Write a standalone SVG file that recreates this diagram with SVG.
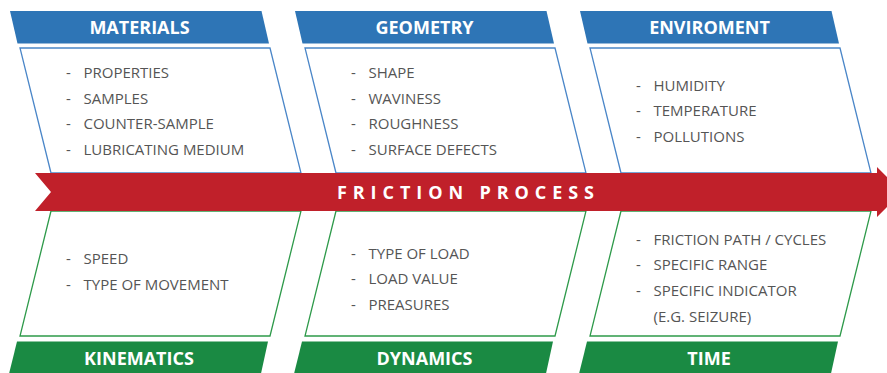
<svg xmlns="http://www.w3.org/2000/svg" width="887" height="373" viewBox="0 0 887 373">
<style>
.hdrT{fill:#2E75B6}
.hdrB{fill:#1A8A43}
.boxT{fill:#fff;stroke:#4A86C8;stroke-width:1.3}
.boxB{fill:#fff;stroke:#2E9A4A;stroke-width:1.3}
.ht{font-family:"Open Sans","Liberation Sans",sans-serif;font-weight:700;font-size:18px;fill:#fff;text-anchor:middle}
.it{font-family:"Open Sans","Liberation Sans",sans-serif;font-size:15px;fill:#555}
.fp{font-family:"Open Sans","Liberation Sans",sans-serif;font-weight:700;font-size:18px;fill:#fff}
</style>
<rect width="887" height="373" fill="#fff"/>
<g id="materials">
<polygon class="boxT" points="20,48 270,48 301,173 51,173"/>
<polygon class="hdrT" points="10,11 261.5,11 269,43.5 17.5,43.5"/>
<text class="ht" x="139.5" y="34">MATERIALS</text>
<text class="it" x="66" y="78">-</text><text class="it" x="83.5" y="78">PROPERTIES</text>
<text class="it" x="66" y="103.5">-</text><text class="it" x="83.5" y="103.5">SAMPLES</text>
<text class="it" x="66" y="129">-</text><text class="it" x="83.5" y="129">COUNTER-SAMPLE</text>
<text class="it" x="66" y="154.5">-</text><text class="it" x="83.5" y="154.5">LUBRICATING MEDIUM</text>
</g>
<g id="geometry">
<polygon class="boxT" points="305,48 555,48 586,173 336,173"/>
<polygon class="hdrT" points="295,11 546.5,11 554,43.5 302.5,43.5"/>
<text class="ht" x="424.5" y="34">GEOMETRY</text>
<text class="it" x="351" y="78">-</text><text class="it" x="368.5" y="78">SHAPE</text>
<text class="it" x="351" y="103.5">-</text><text class="it" x="368.5" y="103.5">WAVINESS</text>
<text class="it" x="351" y="129">-</text><text class="it" x="368.5" y="129">ROUGHNESS</text>
<text class="it" x="351" y="154.5">-</text><text class="it" x="368.5" y="154.5">SURFACE DEFECTS</text>
</g>
<g id="enviroment">
<polygon class="boxT" points="590,48 840,48 871,173 621,173"/>
<polygon class="hdrT" points="580,11 831.5,11 839,43.5 587.5,43.5"/>
<text class="ht" x="709.5" y="34">ENVIROMENT</text>
<text class="it" x="636" y="90.5">-</text><text class="it" x="653.5" y="90.5">HUMIDITY</text>
<text class="it" x="636" y="116">-</text><text class="it" x="653.5" y="116">TEMPERATURE</text>
<text class="it" x="636" y="141.5">-</text><text class="it" x="653.5" y="141.5">POLLUTIONS</text>
</g>
<g id="kinematics">
<polygon class="boxB" points="51,211 301,211 270,336 20,336"/>
<polygon class="hdrB" points="17,341.5 268,341.5 260,378 8,378"/>
<text class="ht" x="139" y="365">KINEMATICS</text>
<text class="it" x="66" y="264">-</text><text class="it" x="83.5" y="264">SPEED</text>
<text class="it" x="66" y="289.5">-</text><text class="it" x="83.5" y="289.5">TYPE OF MOVEMENT</text>
</g>
<g id="dynamics">
<polygon class="boxB" points="336,211 586,211 555,336 305,336"/>
<polygon class="hdrB" points="302,341.5 553,341.5 545,378 293,378"/>
<text class="ht" x="424.5" y="365">DYNAMICS</text>
<text class="it" x="351" y="258.5">-</text><text class="it" x="368.5" y="258.5">TYPE OF LOAD</text>
<text class="it" x="351" y="284">-</text><text class="it" x="368.5" y="284">LOAD VALUE</text>
<text class="it" x="351" y="309.5">-</text><text class="it" x="368.5" y="309.5">PREASURES</text>
</g>
<g id="time">
<polygon class="boxB" points="621,211 871,211 840,336 590,336"/>
<polygon class="hdrB" points="587,341.5 838,341.5 830,378 578,378"/>
<text class="ht" x="709" y="365">TIME</text>
<text class="it" x="636" y="244.5">-</text><text class="it" x="653.5" y="244.5">FRICTION PATH / CYCLES</text>
<text class="it" x="636" y="270">-</text><text class="it" x="653.5" y="270">SPECIFIC RANGE</text>
<text class="it" x="636" y="295.5">-</text><text class="it" x="653.5" y="295.5">SPECIFIC INDICATOR</text>
<text class="it" x="653.5" y="321.5">(E.G. SEIZURE)</text>
</g>
<g id="connectors">
<g id="friction-process">
<polygon fill="#C0202A" points="35,173 877,173 877,167 902,192 877,217 877,211 35,211 51,192"/>
<text class="fp" x="337" y="199" textLength="257" lengthAdjust="spacing">FRICTION PROCESS</text>
</g>
</g>
</svg>
